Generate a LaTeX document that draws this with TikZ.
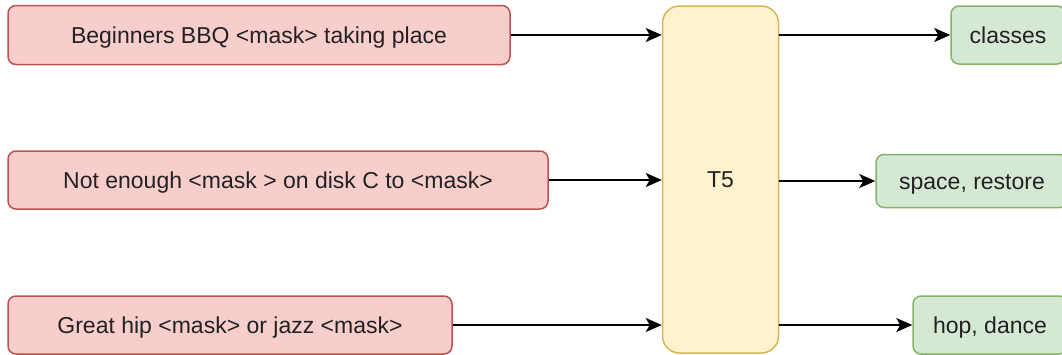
\documentclass[tikz,border=0pt]{standalone}
\usepackage{fontspec}
\setmainfont{Liberation Sans}
\usetikzlibrary{arrows.meta}
\definecolor{redfill}{HTML}{F8CECC}
\definecolor{redline}{HTML}{B85450}
\definecolor{yelfill}{HTML}{FFF2CC}
\definecolor{yelline}{HTML}{D6B656}
\definecolor{grnfill}{HTML}{D5E8D4}
\definecolor{grnline}{HTML}{82B366}
\definecolor{txt}{HTML}{222222}
\tikzset{
  box/.style={draw, line width=1.5pt, rounded corners=8pt, inner sep=0pt,
    text height=16.5pt, text depth=0pt,
    text=txt, font=\fontsize{23}{27}\selectfont},
  inbox/.style={box, fill=redfill, draw=redline},
  outbox/.style={box, fill=grnfill, draw=grnline},
  model/.style={box, fill=yelfill, draw=yelline, rounded corners=17pt},
  link/.style={line width=1.8pt, -{Stealth[length=16pt, width=14pt, inset=4pt]}}
}
\begin{document}
\begin{tikzpicture}[x=1pt, y=-1pt]
  \useasboundingbox (0,0) rectangle (1062,354);
  \clip (0,0) rectangle (1062,354);
  % input sentences
  \node[inbox, minimum width=502pt, minimum height=59pt] (in1) at (259,35) {Beginners BBQ <mask> taking place};
  \node[inbox, minimum width=540pt, minimum height=58pt] (in2) at (278,180) {Not enough <mask > on disk C to <mask>};
  \node[inbox, minimum width=444pt, minimum height=58pt] (in3) at (230,325) {Great hip <mask> or jazz <mask>};
  % model
  \node[model, minimum width=116pt, minimum height=347pt] (t5) at (720.5,179.5) {T5};
  % predictions
  \node[outbox, minimum width=114pt, minimum height=58pt] (out1) at (1008,35) {classes};
  \node[outbox, minimum width=192pt, minimum height=53pt] (out2) at (972,181) {space, restore};
  \node[outbox, minimum width=154pt, minimum height=58pt] (out3) at (990,325) {hop, dance};
  % connectors
  \draw[link] (in1.east) -- (in1.east -| t5.west);
  \draw[link] (in2.east) -- (in2.east -| t5.west);
  \draw[link] (in3.east) -- (in3.east -| t5.west);
  \draw[link] (out1.west -| t5.east) -- (out1.west);
  \draw[link] (out2.west -| t5.east) -- (out2.west);
  \draw[link] (out3.west -| t5.east) -- (out3.west);
\end{tikzpicture}
\end{document}
